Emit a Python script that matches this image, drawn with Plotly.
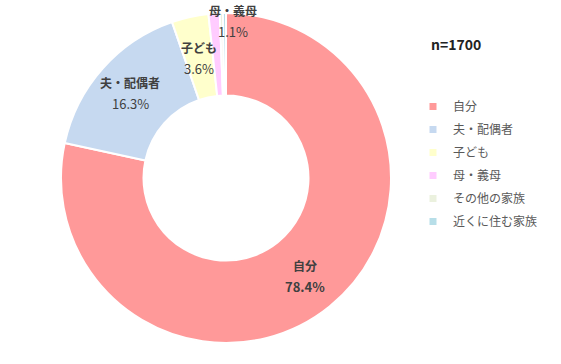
import math
import plotly.graph_objects as go

categories = ["自分", "夫・配偶者", "子ども", "母・義母", "その他の家族", "近くに住む家族"]
values = [78.4, 16.3, 3.6, 1.1, 0.3, 0.3]
colors = ["#FF9999", "#C6D9F0", "#FFFFCC", "#FFCCFF", "#EBF1DE", "#B7DEE8"]
sample_label = "n=1700"
shown_labels = ["自分", "夫・配偶者", "子ども", "母・義母"]

W, H = 561, 364
cx, cy, R = 226, 178, 165  # pie center/radius in px (from top-left)
hole = 0.5

FONT = "Noto Sans CJK JP, Noto Sans, sans-serif"
TXT = "#404040"

fig = go.Figure()
fig.add_trace(go.Pie(
    labels=categories, values=values, sort=False, direction="clockwise", rotation=0,
    hole=hole, marker=dict(colors=colors, line=dict(color="white", width=2)),
    textinfo="none", hoverinfo="label+percent", showlegend=False,
    domain=dict(x=[(cx - R) / W, (cx + R) / W], y=[(H - cy - R) / H, (H - cy + R) / H]),
))

# legend via marker-only traces (small squares)
for i, (c, col) in enumerate(zip(categories, colors)):
    fig.add_trace(go.Scatter(x=[None], y=[None], mode="markers", name=c,
                             legendgroup=f"g{i}",
                             marker=dict(symbol="square", size=7, color=col)))

# data labels placed at slice mid-angles
label_r = {"自分": 126, "夫・配偶者": 128, "子ども": 122, "母・義母": 157}
label_dx = {"母・義母": 18}
total = sum(values)
cum = 0.0
for c, v in zip(categories, values):
    mid = (cum + v / 2) / total
    cum += v
    if c not in shown_labels:
        continue
    ang = 2 * math.pi * mid
    r = label_r[c]
    px = cx + r * math.sin(ang) + label_dx.get(c, 0)
    py = cy - r * math.cos(ang)
    pct = f"{v:.1f}%"
    common = dict(x=px / W, y=1 - py / H, xref="paper", yref="paper",
                  xanchor="center", yanchor="middle", showarrow=False)
    fig.add_annotation(text=f"<b>{c}</b>", yshift=11,
                       font=dict(family=FONT, size=12, color=TXT), **common)
    fig.add_annotation(text=(f"<b>{pct}</b>" if c == "自分" else pct), yshift=-10,
                       font=dict(family=FONT, size=13, color=TXT), **common)

fig.add_annotation(x=456 / W, y=1 - 44 / H, xref="paper", yref="paper",
                   xanchor="center", yanchor="middle",
                   text=f"<b>{sample_label}</b>", showarrow=False,
                   font=dict(family=FONT, size=14, color="#222222"))

fig.update_layout(
    width=W, height=H, margin=dict(l=0, r=0, t=0, b=0),
    paper_bgcolor="white", plot_bgcolor="white",
    xaxis=dict(visible=False), yaxis=dict(visible=False),
    font=dict(family=FONT, color="#595959"),
    legend=dict(x=413 / W, y=1 - 92 / H, xanchor="left", yanchor="top",
                font=dict(family=FONT, size=12, color="#595959"),
                tracegroupgap=4, bgcolor="rgba(0,0,0,0)"),
)

fig.write_html("out.html")
